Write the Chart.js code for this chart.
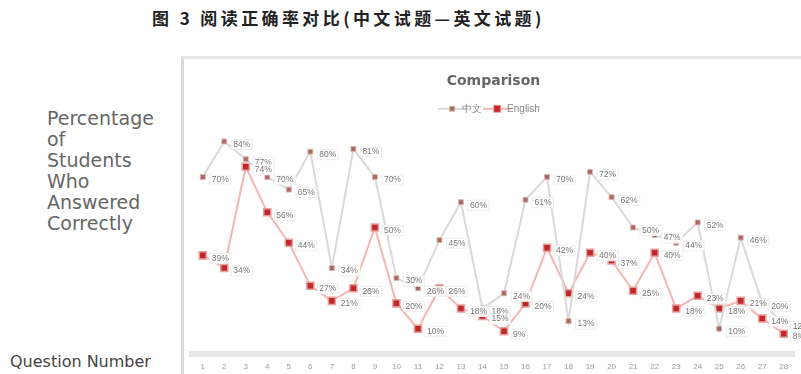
<!DOCTYPE html>
<html>
<head>
<meta charset="utf-8">
<script src="https://cdn.jsdelivr.net/npm/chart.js@4/dist/chart.umd.min.js"></script>
<style>
  html, body { margin: 0; padding: 0; background: #fff; }
  body { width: 801px; height: 374px; position: relative; overflow: hidden; }
  #title { position: absolute; left: 152px; top: 9px; font: bold 17px "Noto Sans CJK SC"; letter-spacing: 3.4px; color: #222; white-space: nowrap; line-height: 18px; }
  #ylab { position: absolute; left: 47px; top: 108px; font: 19px "DejaVu Sans"; line-height: 21px; color: #666; }
  #xlab { position: absolute; left: 10px; top: 352px; font: 16px "DejaVu Sans"; color: #444; white-space: nowrap; }
  #box { position: absolute; left: 181px; top: 56px; width: 620px; height: 318px; border-left: 3px solid #dcdcdc; border-top: 3px solid #e6e6e6; box-sizing: border-box; }
  #c { position: absolute; left: 184px; top: 59px; }
</style>
</head>
<body>
<div id="title">图 3 阅读正确率对比(中文试题—英文试题)</div>
<div id="ylab">Percentage<br>of<br>Students<br>Who<br>Answered<br>Correctly</div>
<div id="xlab">Question Number</div>
<div id="box"></div>
<canvas id="c" width="617" height="315"></canvas>
<script>
const questions = ["1","2","3","4","5","6","7","8","9","10","11","12","13","14","15","16","17","18","19","20","21","22","23","24","25","26","27","28"];
const chineseScores = [70,84,77,70,65,80,34,81,70,30,26,45,60,18,24,61,70,13,72,62,50,47,44,52,10,46,20,12];
const englishScores = [39,34,74,56,44,27,21,26,50,20,10,26,18,15,9,20,42,24,40,37,25,40,18,23,18,21,14,8];
const seriesNames = ["中文", "English"];

function legendIcon(line, fill, border, size) {
  const cv = document.createElement('canvas');
  cv.width = 28; cv.height = 10;
  const g = cv.getContext('2d');
  g.strokeStyle = line; g.lineWidth = 2;
  g.beginPath(); g.moveTo(0, 5); g.lineTo(28, 5); g.stroke();
  g.fillStyle = fill; g.strokeStyle = border; g.lineWidth = 1;
  g.fillRect(14 - size/2, 5 - size/2, size, size);
  g.strokeRect(14 - size/2, 5 - size/2, size, size);
  return cv;
}

const valueLabels = {
  id: 'valueLabels',
  afterDatasetsDraw(chart) {
    const ctx = chart.ctx;
    ctx.save();
    ctx.font = '8.5px "Liberation Sans"';
    ctx.textBaseline = 'middle';
    chart.data.datasets.forEach((ds, i) => {
      const meta = chart.getDatasetMeta(i);
      meta.data.forEach((pt, j) => {
        const t = ds.data[j] + '%';
        const w = ctx.measureText(t).width;
        const x = pt.x + 9, y = pt.y + 3;
        ctx.fillStyle = 'rgba(255,255,255,0.9)';
        ctx.fillRect(x - 2, y - 5, w + 4, 10);
        ctx.strokeStyle = '#eeeeee'; ctx.lineWidth = 1;
        ctx.strokeRect(x - 2, y - 5, w + 4, 10);
        ctx.fillStyle = '#777';
        ctx.fillText(t, x, y);
      });
    });
    ctx.restore();
  }
};

new Chart(document.getElementById('c'), {
  type: 'line',
  data: {
    labels: questions,
    datasets: [
      { label: seriesNames[0], data: chineseScores, borderColor: '#d9d9d9', borderWidth: 2,
        pointStyle: 'rect', pointRadius: 3.5, pointBackgroundColor: '#a8675f', pointBorderColor: '#d8b8b4', pointBorderWidth: 1, tension: 0 },
      { label: seriesNames[1], data: englishScores, borderColor: '#f6b5b1', borderWidth: 2,
        pointStyle: 'rect', pointRadius: 5, pointBackgroundColor: '#c0282d', pointBorderColor: '#e8a09c', pointBorderWidth: 1.5, tension: 0 }
    ]
  },
  options: {
    responsive: false,
    animation: false,
    layout: { padding: { left: 8, right: 6, top: 0, bottom: 0 } },
    plugins: {
      title: { display: true, text: 'Comparison', color: '#666', font: { family: 'DejaVu Sans', size: 14, weight: 'bold' }, padding: { top: 14, bottom: 4 } },
      legend: {
        labels: {
          color: '#888', font: { family: 'Liberation Sans', size: 10 }, usePointStyle: true, boxWidth: 28, boxHeight: 10,
          generateLabels(chart) {
            return chart.data.datasets.map((ds, i) => ({
              text: ds.label, fontColor: '#888', hidden: false, datasetIndex: i, lineWidth: 0,
              pointStyle: i === 0 ? legendIcon('#d9d9d9', '#a8675f', '#d8b8b4', 5) : legendIcon('#f6b5b1', '#c0282d', '#e8a09c', 7)
            }));
          }
        }
      },
      tooltip: { enabled: false }
    },
    scales: {
      x: {
        offset: true,
        grid: { display: false },
        border: { display: true, color: '#e8e8e8', width: 6 },
        ticks: { color: '#999', font: { family: 'Liberation Sans', size: 8 }, maxRotation: 0, autoSkip: false, padding: 0 },
        afterFit(scale) { scale.height = 20; }
      },
      y: { display: false, min: 0, max: 91 }
    }
  },
  plugins: [valueLabels]
});
</script>
</body>
</html>
